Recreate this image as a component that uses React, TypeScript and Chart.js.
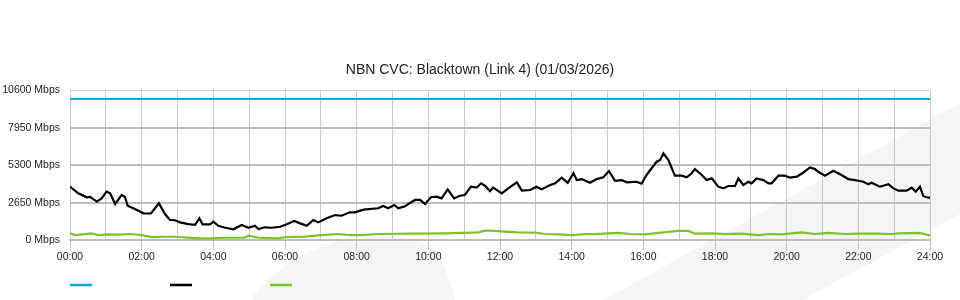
import React, { useEffect, useRef } from "react";
import { Chart, registerables } from "chart.js";

Chart.register(...registerables);

const TITLE = "NBN CVC: Blacktown (Link 4) (01/03/2026)";
const yTicks = [0, 2650, 5300, 7950, 10600];

const capacityHours = [0, 24];
const capacityMbps = [10000, 10000];

const blackHours = [0.00,0.23,0.47,0.56,0.75,0.88,1.02,1.12,1.26,1.44,1.53,1.61,1.81,2.05,2.26,2.48,2.65,2.79,2.93,3.07,3.30,3.49,3.61,3.70,3.91,4.00,4.14,4.33,4.56,4.79,4.98,5.16,5.26,5.44,5.63,5.86,6.05,6.26,6.42,6.61,6.79,6.93,7.16,7.40,7.58,7.81,7.95,8.19,8.60,8.74,8.88,9.05,9.16,9.35,9.44,9.63,9.77,9.91,10.07,10.23,10.37,10.54,10.72,10.88,11.02,11.19,11.35,11.47,11.58,11.72,11.81,12.05,12.23,12.47,12.61,12.84,13.02,13.16,13.40,13.54,13.72,13.89,14.05,14.14,14.28,14.51,14.70,14.88,15.04,15.21,15.40,15.54,15.81,15.95,16.09,16.37,16.47,16.56,16.70,16.88,17.07,17.21,17.35,17.44,17.58,17.77,17.91,18.09,18.23,18.37,18.56,18.65,18.79,18.93,19.02,19.16,19.35,19.49,19.58,19.77,19.95,20.09,20.28,20.46,20.65,20.79,20.88,21.07,21.30,21.49,21.72,21.91,22.14,22.28,22.37,22.60,22.84,22.98,23.12,23.35,23.49,23.60,23.72,23.81,23.95,24.00];
const blackMbps = [3780,3310,3030,3060,2720,2950,3430,3310,2550,3190,3070,2430,2200,1890,1880,2600,1840,1420,1400,1250,1130,1080,1540,1110,1110,1300,1010,870,760,1060,870,1010,780,900,870,940,1110,1350,1180,1010,1420,1250,1540,1770,1720,1960,1960,2150,2250,2410,2250,2480,2250,2390,2550,2840,2840,2550,3030,3070,2950,3590,2950,3140,3190,3780,3710,4020,3850,3470,3710,3310,3660,4090,3500,3545,3780,3590,3900,4020,4420,4060,4730,4250,4320,4060,4320,4440,4890,4200,4250,4090,4130,3990,4610,5550,5670,6150,5670,4560,4560,4440,4730,5030,4730,4250,4370,3780,3660,3830,3830,4370,3900,4130,4020,4370,4250,4020,4020,4560,4560,4420,4490,4770,5150,5030,4840,4560,4910,4660,4320,4250,4130,3950,4060,3780,3950,3660,3500,3500,3710,3430,3780,3120,3000,3000];

const greenHours = [0,0.14,0.60,0.79,1.07,1.35,1.72,2.0,2.28,2.65,2.93,3.58,3.91,4.33,4.88,4.98,5.26,5.81,6.0,6.56,7.02,7.49,7.81,8.14,8.60,9.53,10.47,11.40,11.58,11.72,12.14,12.51,12.98,13.26,13.63,14.0,14.37,14.65,15.02,15.30,15.63,16.05,16.42,16.98,17.26,17.44,17.91,18.28,18.74,19.21,19.53,19.86,20.42,20.79,21.16,21.63,22.0,22.47,22.93,23.12,23.72,23.95,24];
const greenMbps = [470,350,470,350,400,380,425,350,210,230,230,120,120,160,160,310,160,120,210,240,350,425,350,350,425,450,470,540,660,660,590,540,520,425,400,350,420,420,470,500,425,400,500,640,640,450,470,425,450,350,425,400,540,425,500,425,450,450,425,470,500,350,350];

const BLUE = "#14a4e6";
const BLACK = "#000000";
const GREEN = "#7fc12b";
const FONT = "'Liberation Sans', Arial, sans-serif";

const toPoints = (xs: number[], ys: number[]) => xs.map((x, i) => ({ x, y: ys[i] }));

const watermark = {
  id: "watermark",
  beforeDraw(chart: any) {
    const ctx = chart.ctx;
    ctx.save();
    ctx.fillStyle = "#f4f5f7";
    ctx.beginPath();
    ctx.moveTo(250, 300);
    ctx.quadraticCurveTo(295, 242, 370, 237);
    ctx.quadraticCurveTo(422, 234, 440, 255);
    ctx.lineTo(453, 290);
    ctx.lineTo(455, 300);
    ctx.closePath();
    ctx.fill();
    ctx.beginPath();
    ctx.moveTo(603, 300);
    ctx.lineTo(960, 103);
    ctx.lineTo(960, 214);
    ctx.lineTo(803, 300);
    ctx.closePath();
    ctx.fill();
    ctx.restore();
  },
};

const titleAndLegend = {
  id: "titleAndLegend",
  afterDraw(chart: any) {
    const ctx = chart.ctx;
    const left = chart.chartArea.left;
    ctx.save();
    ctx.fillStyle = "#222";
    ctx.font = "14px " + FONT;
    ctx.textAlign = "center";
    ctx.textBaseline = "middle";
    ctx.fillText(TITLE, chart.width / 2, 70);
    chart.data.datasets.forEach((ds: any, i: number) => {
      ctx.strokeStyle = ds.borderColor;
      ctx.lineWidth = 2.5;
      ctx.beginPath();
      ctx.moveTo(left + i * 100, 285);
      ctx.lineTo(left + i * 100 + 22, 285);
      ctx.stroke();
    });
    ctx.restore();
  },
};

export default function App() {
  const ref = useRef<HTMLCanvasElement>(null);
  useEffect(() => {
    document.body.style.margin = "0";
    Chart.defaults.font.family = FONT;
    const chart = new Chart(ref.current!, {
      type: "line",
      data: {
        datasets: [
          { label: "Capacity", data: toPoints(capacityHours, capacityMbps), borderColor: BLUE, borderWidth: 2, pointRadius: 0 },
          { label: "Download", data: toPoints(blackHours, blackMbps), borderColor: BLACK, borderWidth: 2.2, pointRadius: 0 },
          { label: "Upload", data: toPoints(greenHours, greenMbps), borderColor: GREEN, borderWidth: 2.2, pointRadius: 0 },
        ],
      },
      options: {
        animation: false,
        responsive: false,
        layout: { padding: { left: 0, right: 30, top: 90.5, bottom: 0 } },
        plugins: {
          legend: { display: false },
          tooltip: { enabled: false },
          title: { display: false },
        },
        scales: {
          x: {
            type: "linear",
            min: 0,
            max: 24,
            ticks: {
              stepSize: 1,
              autoSkip: false,
              maxRotation: 0,
              color: "#222",
              font: { size: 10.5 },
              padding: 1,
              callback: (v: any) => (Number(v) % 2 === 0 ? String(v).padStart(2, "0") + ":00" : ""),
            },
            grid: {
              color: "#c9c9c9",
              lineWidth: 1,
              tickLength: 10,
              tickColor: (c: any) => (c.tick && c.tick.value % 2 === 0 ? "#c0c0c0" : "rgba(0,0,0,0)"),
            },
            border: { display: true, color: "#bdbdbd", width: 2 },
            afterFit: (s: any) => { s.height = 60; },
          },
          y: {
            min: 0,
            max: 10600,
            afterBuildTicks: (s: any) => { s.ticks = yTicks.map((v) => ({ value: v })); },
            ticks: {
              color: "#222",
              font: { size: 10.5 },
              padding: 10,
              callback: (v: any) => v + " Mbps",
            },
            grid: {
              drawTicks: false,
              color: (c: any) => (c.tick && c.tick.value === 10600 ? "#d0d0d0" : "#bdbdbd"),
              lineWidth: (c: any) => (c.tick && c.tick.value === 10600 ? 1 : 2),
            },
            border: { display: false },
            afterFit: (s: any) => { s.width = 70; },
          },
        },
      },
      plugins: [watermark, titleAndLegend],
    } as any);
    return () => chart.destroy();
  }, []);
  return (
    <div style={{ width: 960, height: 300, position: "relative" }}>
      <canvas ref={ref} width={960} height={300} style={{ display: "block" }} />
    </div>
  );
}
